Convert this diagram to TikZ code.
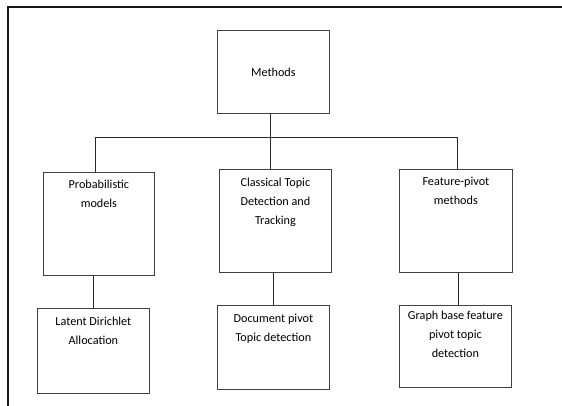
\documentclass[tikz,border=0pt]{standalone}
\usepackage{fontspec}
\setmainfont{Carlito}
\newcommand{\bxt}[4]{\parbox[c][#2][t]{#1}{\centering\vspace*{#3}#4}}
\begin{document}
\begin{tikzpicture}[x=1pt,y=-1pt,
  every node/.style={font=\fontsize{12.2}{19}\selectfont},
  box/.style={draw=black!75, line width=0.8pt, inner sep=0pt, anchor=north west},
  conn/.style={draw=black!85, line width=0.8pt},
  frame/.style={draw=black!90, line width=2pt}]
\useasboundingbox (0,0) rectangle (562,406);
\draw[frame] (8,406) -- (8,7) -- (562,7);
% top
\node[box, minimum width=112pt, minimum height=83pt] (M) at (217,30) {Methods};
% middle row
\node[box] (P) at (43,172) {\bxt{111pt}{103pt}{8pt}{Probabilistic\\models}};
\node[box] (C) at (219,169) {\bxt{112pt}{103pt}{8.5pt}{Classical Topic\\Detection and\\Tracking}};
\node[box] (F) at (399,169) {\bxt{113pt}{103pt}{8pt}{Feature-pivot\\methods}};
% bottom row
\node[box] (L) at (37,308) {\bxt{112pt}{85pt}{8.5pt}{Latent Dirichlet\\Allocation}};
\node[box] (D) at (217,305) {\bxt{112pt}{84pt}{8.5pt}{Document pivot\\Topic detection}};
\node[box] (G) at (399,305) {\bxt{112pt}{82pt}{6pt}{Graph base feature\\pivot topic\\detection}};
% connectors
\coordinate (hub) at (270,137);
\draw[conn] (M.south -| hub) -- (hub);
\draw[conn] ([xshift=-3.5pt]P.north) |- (hub);
\draw[conn] (C.north -| hub) -- (hub);
\draw[conn] ([xshift=1.5pt]F.north) |- (hub);
\draw[conn] (L.north) -- (L.north |- P.south);
\draw[conn] (D.north) -- (D.north |- C.south);
\draw[conn] ([xshift=3pt]G.north) -- ([xshift=3pt]G.north |- F.south);
\end{tikzpicture}
\end{document}
